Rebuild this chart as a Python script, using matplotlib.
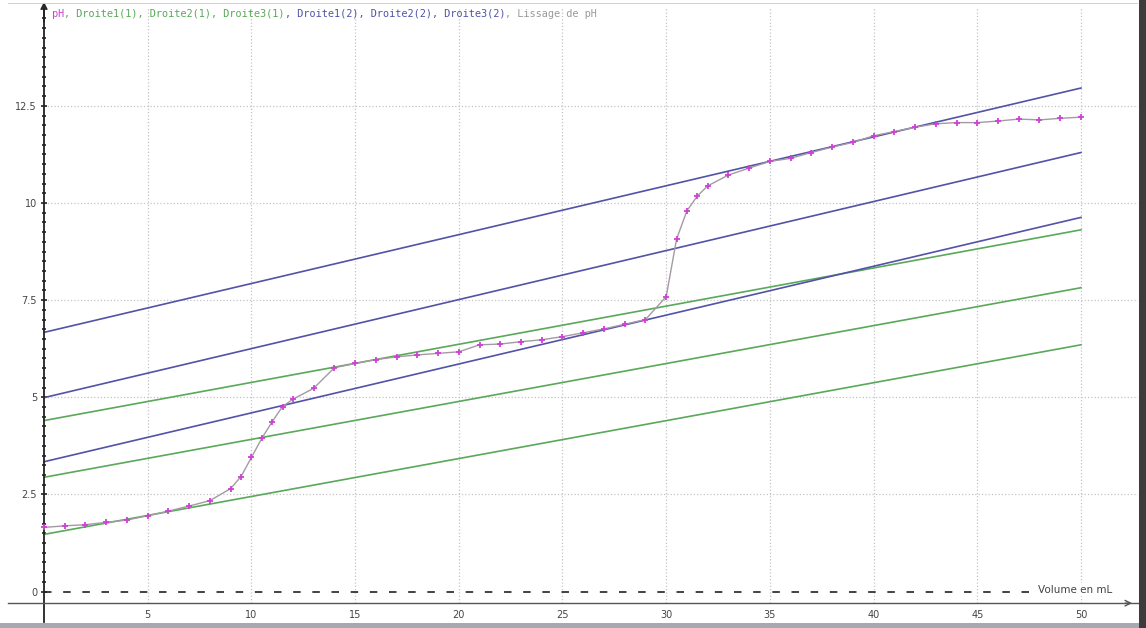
import numpy as np
import matplotlib
matplotlib.use("Agg")
import matplotlib.pyplot as plt
from matplotlib.patches import Rectangle

volume = [0, 1, 2, 3, 4, 5, 6, 7, 8, 9, 9.5, 10, 10.5, 11, 11.5, 12,
          13, 14, 15, 16, 17, 18, 19, 20, 21, 22, 23, 24, 25, 26, 27, 28, 29, 30,
          30.5, 31, 31.5, 32,
          33, 34, 35, 36, 37, 38, 39, 40, 41, 42, 43, 44, 45, 46, 47, 48, 49, 50]
ph = [1.65, 1.69, 1.72, 1.78, 1.84, 1.95, 2.07, 2.20, 2.34, 2.65,
      2.96, 3.45, 3.94, 4.37, 4.76, 4.95,
      5.23, 5.76, 5.87, 5.97, 6.04, 6.09, 6.13, 6.17, 6.35, 6.37, 6.43, 6.48, 6.56, 6.66, 6.76, 6.88, 7.00, 7.59,
      9.07, 9.80, 10.18, 10.44,
      10.72, 10.90, 11.07, 11.15, 11.30, 11.44, 11.56, 11.73, 11.84, 11.95, 12.04, 12.07, 12.07, 12.11, 12.16, 12.14, 12.18, 12.21]

# tangentes paralleles (methode des tangentes), valeurs en V=0 et V=50
droite_x = [0, 50]
droites1_start = [4.40, 2.94, 1.47]
droites1_end = [9.31, 7.82, 6.35]
droites2_start = [6.67, 4.99, 3.34]
droites2_end = [12.96, 11.30, 9.63]

xticks = [5, 10, 15, 20, 25, 30, 35, 40, 45, 50]
yticks = [0, 2.5, 5, 7.5, 10, 12.5]
ytick_labels = ["0", "2.5", "5", "7.5", "10", "12.5"]

green = "#5aa85a"
blue = "#5252a8"
magenta = "#d040d8"
smooth_gray = "#a49aa4"

W, H = 1146, 628
fig = plt.figure(figsize=(W / 100, H / 100), dpi=100)
fig.patch.set_facecolor("white")
ax = fig.add_axes([8 / W, 6 / H, 1130 / W, 614 / H])
ax.set_xlim(-1.736, 52.75)
ax.set_ylim(-0.785, 15.02)

# grid only on the right of the y axis
for xv in xticks:
    ax.vlines(xv, -0.3, 15.02, colors="#c4c4c4", linestyles=":", lw=0.9, zorder=0)
for yv in yticks[1:]:
    ax.hlines(yv, 0, 52.75, colors="#c4c4c4", linestyles=":", lw=0.9, zorder=0)
ax.plot([0, 50.0], [0, 0], color="#222222", lw=1.2, ls=(0, (4.5, 7)), zorder=1)

for y0, y1 in zip(droites1_start, droites1_end):
    ax.plot(droite_x, [y0, y1], color=green, lw=1.2, zorder=2)
for y0, y1 in zip(droites2_start, droites2_end):
    ax.plot(droite_x, [y0, y1], color=blue, lw=1.2, zorder=2)

ax.plot(volume, ph, color=smooth_gray, lw=1.0, zorder=3)
ax.plot(volume, ph, ls="none", marker="+", ms=4.5, mew=1.3, color=magenta, zorder=4)

# axes en croix, facon Regressi
for s in ["top", "right"]:
    ax.spines[s].set_visible(False)
ax.spines["left"].set_position(("data", 0))
ax.spines["bottom"].set_position(("data", -0.3))
ax.spines["left"].set_color("#222222")
ax.spines["bottom"].set_color("#555555")
ax.spines["left"].set_linewidth(1.3)
ax.spines["bottom"].set_linewidth(1.0)

ax.set_xticks(xticks)
ax.set_xticklabels([str(v) for v in xticks])
ax.set_yticks(yticks)
ax.set_yticklabels(ytick_labels)
ax.set_yticks(np.arange(0, 15.01, 0.25), minor=True)
ax.tick_params(axis="x", length=0, pad=5, labelsize=7, labelcolor="#444444")
ax.tick_params(axis="y", which="major", direction="inout", length=4, width=1.2,
               pad=3, labelsize=7, labelcolor="#444444", color="#222222")
ax.tick_params(axis="y", which="minor", direction="inout", length=3, width=1.2, color="#222222")

ax.annotate("", xy=(0, 15.25), xytext=(0, 14.6), annotation_clip=False,
            arrowprops=dict(arrowstyle="->", color="#222222", lw=1.2))
ax.annotate("", xy=(52.6, -0.3), xytext=(52.0, -0.3), annotation_clip=False,
            arrowprops=dict(arrowstyle="->", color="#555555", lw=1.0))
ax.text(51.5, 0.05, "Volume en mL", ha="right", va="center", fontsize=7.5, color="#444444",
        bbox=dict(facecolor="white", edgecolor="none", pad=1), zorder=5)

# legende texte colorie en haut, morceaux places l'un apres l'autre
parts = [("pH", magenta),
         (", Droite1(1), Droite2(1), Droite3(1)", green),
         (", Droite1(2), Droite2(2), Droite3(2)", blue),
         (", Lissage de pH", "#9a9a9a")]
renderer = fig.canvas.get_renderer()
xpix = 52
for txt, col in parts:
    t = fig.text(xpix / W, 1 - 14 / H, txt, family="DejaVu Sans Mono", fontsize=7.4,
                 color=col, va="center", ha="left")
    xpix = t.get_window_extent(renderer).x1

# cadre de la fenetre
fig.add_artist(Rectangle((8 / W, 1 - 4 / H), 1130 / W, 1 / H, transform=fig.transFigure,
                         facecolor="#d0d0d0", edgecolor="none"))
fig.add_artist(Rectangle((0, 0), 1, 5 / H, transform=fig.transFigure,
                         facecolor="#a8a8b0", edgecolor="none"))
fig.add_artist(Rectangle((1139 / W, 0), 7 / W, 1, transform=fig.transFigure,
                         facecolor="#3c3c3c", edgecolor="none"))

fig.savefig("out.png", dpi=100)
